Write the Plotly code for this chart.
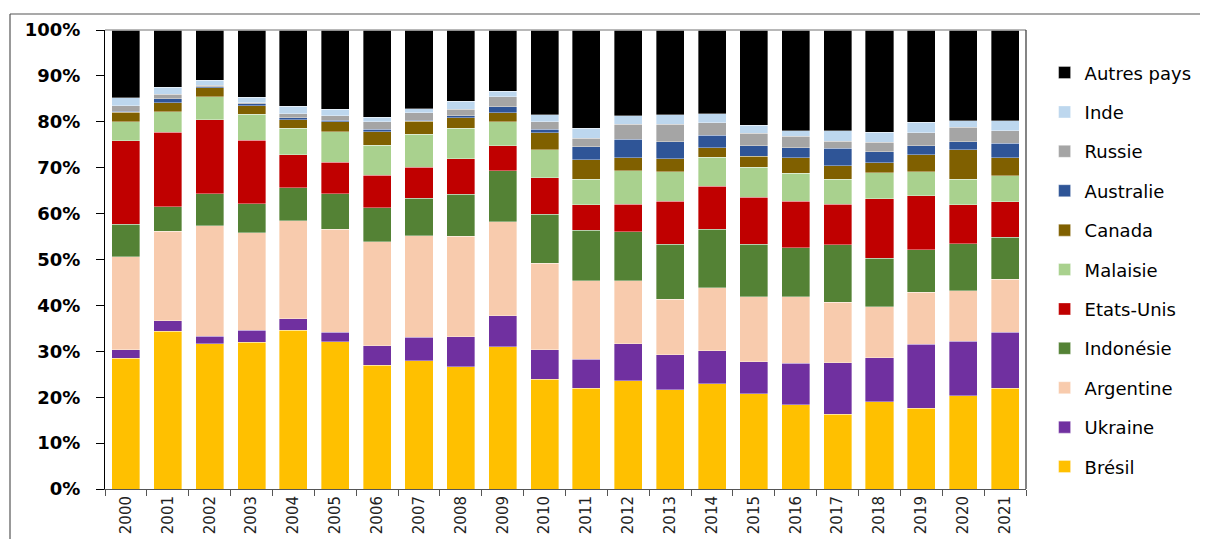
import plotly.graph_objects as go

years = [str(y) for y in range(2000, 2022)]

bresil     = [28.5, 34.4, 31.7, 32.0, 34.4, 32.1, 27.0, 27.9, 26.6, 31.0, 23.9, 21.9, 23.6, 21.6, 22.9, 20.8, 18.4, 16.3, 19.0, 17.6, 20.3, 21.9]
ukraine    = [1.8, 2.3, 1.6, 2.6, 2.5, 2.0, 4.2, 5.1, 6.6, 6.7, 6.4, 6.4, 8.0, 7.6, 7.2, 6.9, 9.0, 11.2, 9.6, 13.9, 11.9, 12.3]
argentine  = [20.3, 19.5, 24.0, 21.2, 21.2, 22.5, 22.7, 22.1, 21.9, 20.5, 18.9, 17.1, 13.8, 12.1, 13.8, 14.2, 14.5, 13.2, 11.1, 11.4, 11.0, 11.5]
indonesie  = [7.1, 5.3, 7.0, 6.4, 7.2, 7.7, 7.4, 8.1, 9.1, 11.1, 10.7, 11.0, 10.7, 12.0, 12.7, 11.4, 10.7, 12.5, 10.6, 9.2, 10.2, 9.1]
etats_unis = [18.2, 16.2, 16.2, 13.8, 7.2, 6.9, 7.1, 6.8, 7.8, 5.5, 7.9, 5.5, 5.9, 9.4, 9.4, 10.3, 10.1, 8.8, 12.9, 11.8, 8.5, 7.8]
malaisie   = [4.1, 4.5, 5.0, 5.6, 5.7, 6.6, 6.5, 7.1, 6.6, 5.2, 6.1, 5.6, 7.3, 6.4, 6.3, 6.5, 6.1, 5.5, 5.7, 5.2, 5.6, 5.6]
canada     = [2.1, 2.0, 1.9, 1.9, 1.8, 2.2, 2.9, 2.9, 2.3, 2.0, 3.7, 4.2, 2.9, 2.9, 2.1, 2.4, 3.4, 2.9, 2.2, 3.7, 6.4, 4.0]
australie  = [0.2, 0.8, 0.2, 0.4, 0.5, 0.3, 0.6, 0.2, 0.4, 1.3, 0.8, 2.9, 4.0, 3.7, 2.7, 2.3, 2.2, 3.8, 2.4, 2.0, 1.8, 3.1]
russie     = [1.2, 1.0, 0.4, 0.3, 0.8, 1.0, 1.6, 1.6, 1.4, 2.2, 1.6, 1.8, 3.3, 3.8, 2.7, 2.7, 2.4, 1.6, 2.0, 2.8, 3.1, 2.7]
inde       = [1.7, 1.5, 1.1, 1.1, 1.7, 1.4, 1.0, 0.9, 1.8, 1.2, 1.5, 2.2, 1.8, 2.0, 2.0, 1.7, 1.3, 2.2, 2.2, 2.3, 1.4, 2.2]
autres     = [14.8, 12.5, 10.9, 14.7, 16.5, 17.3, 19.0, 17.1, 15.5, 13.3, 18.5, 21.4, 18.7, 18.5, 18.2, 20.8, 21.9, 22.0, 22.3, 20.1, 19.8, 19.8]

series = [
    ("Brésil", bresil, "#FFC000"),
    ("Ukraine", ukraine, "#7030A0"),
    ("Argentine", argentine, "#F8CBAD"),
    ("Indonésie", indonesie, "#548235"),
    ("Etats-Unis", etats_unis, "#C00000"),
    ("Malaisie", malaisie, "#A9D18E"),
    ("Canada", canada, "#806000"),
    ("Australie", australie, "#2F5597"),
    ("Russie", russie, "#A5A5A5"),
    ("Inde", inde, "#BDD7EE"),
    ("Autres pays", autres, "#000000"),
]

fig = go.Figure()
n = len(series)
for i, (name, vals, col) in enumerate(series):
    fig.add_trace(go.Bar(
        x=years, y=vals, name=name, legendgroup=name, legendrank=n - i,
        marker=dict(color=col, line=dict(width=0.6, color="rgba(255,255,255,0.6)")),
    ))

# the page has an 8px body margin, so figure px = screen px - 8
L, R, T, B = 97, 182, 22, 50
W, H = 1200, 531
pw, ph = W - L - R, H - T - B

fig.update_layout(
    width=W, height=H,
    barmode="stack", barnorm="percent", bargap=0.33,
    margin=dict(l=L, r=R, t=T, b=B, autoexpand=False),
    plot_bgcolor="white", paper_bgcolor="white",
    font=dict(family="DejaVu Sans", color="black"),
    legend=dict(
        traceorder="grouped", tracegroupgap=13,
        x=1.0202, xanchor="left", y=0.947, yanchor="top",
        font=dict(family="DejaVu Sans", size=18, color="black"),
        itemwidth=30, bgcolor="rgba(0,0,0,0)",
    ),
    xaxis=dict(
        type="category", tickangle=-90,
        tickfont=dict(family="DejaVu Sans", size=15, color="#222"),
        showline=True, linecolor="#555", linewidth=1,
        ticks="outside", tickson="boundaries", ticklen=6, tickcolor="#555",
        showgrid=False,
    ),
    yaxis=dict(
        range=[0, 100], tickvals=list(range(0, 101, 10)),
        ticktext=[f"{v}%" for v in range(0, 101, 10)],
        tickfont=dict(family="DejaVu Sans", size=18, color="black", weight="bold"),
        showline=True, linecolor="black", linewidth=1,
        ticks="outside", ticklen=8, tickcolor="black", ticklabelstandoff=12,
        showgrid=False, zeroline=False,
    ),
)

# plot-area frame (top grey line, right dark line)
fig.add_shape(type="line", xref="paper", yref="paper", x0=0, x1=1, y0=1, y1=1,
              line=dict(color="#A0A0A0", width=1.5))
fig.add_shape(type="line", xref="paper", yref="paper", x0=1, x1=1, y0=0, y1=1,
              line=dict(color="#333", width=1.2))

def px_x(px):
    return (px - 8 - L) / pw
def px_y(py):
    return (H - B - (py - 8)) / ph

# outer chart frame
fig.add_shape(type="line", xref="paper", yref="paper",
              x0=px_x(10), x1=px_x(1215), y0=px_y(14), y1=px_y(14),
              line=dict(color="#555", width=1.2))
fig.add_shape(type="line", xref="paper", yref="paper",
              x0=px_x(10), x1=px_x(10), y0=px_y(14), y1=px_y(545),
              line=dict(color="#555", width=1.2))

fig.write_html("out.html")
